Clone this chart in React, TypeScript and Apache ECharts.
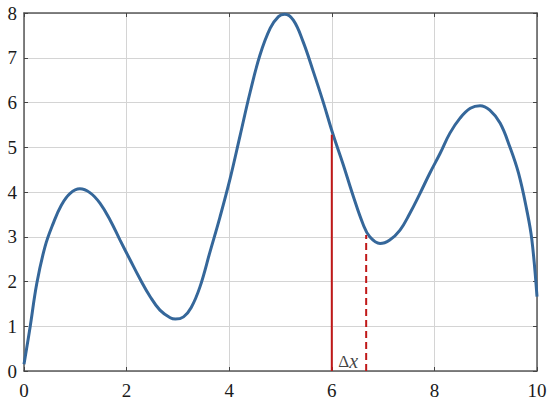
import React, { useEffect, useRef } from "react";
import * as echarts from "echarts";

const curveX = [0, 0.12, 0.25, 0.41, 0.57, 0.73, 0.9, 1.09, 1.29, 1.48, 1.68, 1.87, 2.07, 2.26, 2.46, 2.65, 2.85, 2.95, 3.11, 3.26, 3.43, 3.63, 3.82, 4.02, 4.21, 4.41, 4.6, 4.8, 4.96, 5.08, 5.25, 5.44, 5.64, 5.83, 6.02, 6.22, 6.42, 6.61, 6.74, 6.94, 7.13, 7.33, 7.52, 7.72, 7.91, 8.11, 8.3, 8.5, 8.7, 8.89, 9.08, 9.28, 9.47, 9.64, 9.8, 9.9, 10];
const curveY = [0.15, 0.99, 1.96, 2.78, 3.3, 3.71, 3.97, 4.07, 3.98, 3.75, 3.37, 2.93, 2.48, 2.06, 1.66, 1.36, 1.19, 1.16, 1.21, 1.42, 1.88, 2.68, 3.44, 4.31, 5.25, 6.24, 7.06, 7.66, 7.92, 7.97, 7.84, 7.36, 6.69, 6.02, 5.3, 4.62, 3.9, 3.28, 3.0, 2.85, 2.93, 3.15, 3.52, 3.97, 4.42, 4.86, 5.31, 5.65, 5.87, 5.93, 5.83, 5.54, 5.01, 4.42, 3.6, 2.93, 1.66];
const markerX = [6, 6.67];
const markerY = [5.28, 3.04];
const labelPos = [6.32, 0.22];
const xTicks = [0, 2, 4, 6, 8, 10];
const yTicks = [0, 1, 2, 3, 4, 5, 6, 7, 8];

const FONT = "'Liberation Serif', 'Times New Roman', 'DejaVu Serif', serif";

export default function App() {
  const ref = useRef<HTMLDivElement>(null);
  useEffect(() => {
    if (!ref.current) return;
    const chart = echarts.init(ref.current, null, { renderer: "svg" });
    const axisLine = { show: true, lineStyle: { color: "#595959", width: 1.5 } };
    const tick = { show: true, inside: true, length: 4, lineStyle: { color: "#444", width: 1 } };
    const split = { show: true, lineStyle: { color: "#d4d4d4", width: 1 } };
    const labelStyle = { color: "#1a1a1a", fontSize: 19, fontFamily: FONT, fontWeight: "normal" as const };
    chart.setOption({
      animation: false,
      textStyle: { fontFamily: FONT },
      grid: { left: 24, right: 13, top: 13, bottom: 33, containLabel: false },
      xAxis: [
        {
          type: "value",
          min: xTicks[0],
          max: xTicks[xTicks.length - 1],
          interval: 2,
          position: "bottom",
          axisLine: { ...axisLine, onZero: false },
          axisTick: tick,
          splitLine: split,
          axisLabel: { ...labelStyle, margin: 10 },
        },
        {
          type: "value",
          min: xTicks[0],
          max: xTicks[xTicks.length - 1],
          interval: 2,
          position: "top",
          axisLine: { ...axisLine, onZero: false },
          axisTick: tick,
          splitLine: { show: false },
          axisLabel: { show: false },
        },
      ],
      yAxis: [
        {
          type: "value",
          min: yTicks[0],
          max: yTicks[yTicks.length - 1],
          interval: 1,
          position: "left",
          axisLine: { ...axisLine, onZero: false },
          axisTick: tick,
          splitLine: split,
          axisLabel: { ...labelStyle, margin: 7 },
        },
        {
          type: "value",
          min: yTicks[0],
          max: yTicks[yTicks.length - 1],
          interval: 1,
          position: "right",
          axisLine: { ...axisLine, onZero: false },
          axisTick: tick,
          splitLine: { show: false },
          axisLabel: { show: false },
        },
      ],
      series: [
        {
          type: "line",
          data: curveX.map((x, i) => [x, curveY[i]]),
          smooth: 0.4,
          showSymbol: false,
          symbol: "none",
          lineStyle: { color: "#35679a", width: 3 },
          z: 3,
        },
        {
          type: "line",
          data: [
            [markerX[0], 0],
            [markerX[0], markerY[0]],
          ],
          symbol: "none",
          lineStyle: { color: "#c01818", width: 2 },
          z: 4,
        },
        {
          type: "line",
          data: [
            [markerX[1], 0],
            [markerX[1], markerY[1]],
          ],
          symbol: "none",
          lineStyle: { color: "#c01818", width: 2, type: [7, 4] },
          z: 4,
        },
        {
          type: "scatter",
          data: [labelPos],
          symbolSize: 0,
          silent: true,
          label: {
            show: true,
            position: "inside",
            formatter: "{a|Δ}{b|x}",
            rich: {
              a: { fontFamily: FONT, fontSize: 17, color: "#111" },
              b: { fontFamily: FONT, fontSize: 20, fontStyle: "italic", color: "#111" },
            },
          },
          z: 5,
        },
      ],
    });
    return () => chart.dispose();
  }, []);
  return (
    <div
      ref={ref}
      style={{ position: "absolute", left: 0, top: 0, width: 550, height: 404, background: "#fff" }}
    />
  );
}
